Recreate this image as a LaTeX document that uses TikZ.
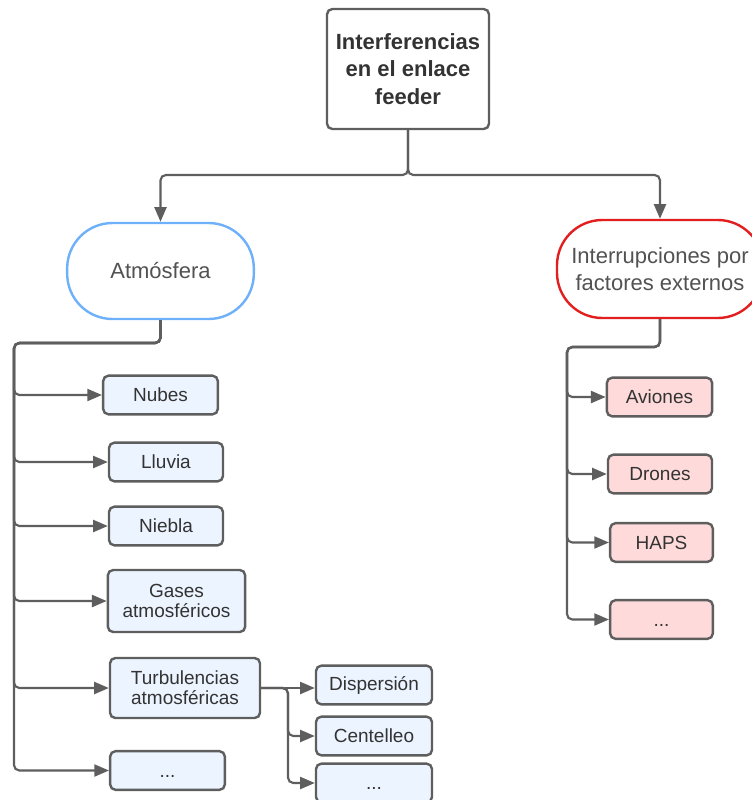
\documentclass[tikz,border=0pt]{standalone}
\usepackage{fontspec}
\setmainfont{Liberation Sans}
\usetikzlibrary{arrows.meta}

\definecolor{lineGray}{RGB}{94,94,94}
\definecolor{txtGray}{RGB}{51,51,51}
\definecolor{atmBlue}{RGB}{110,176,250}
\definecolor{boxBlue}{RGB}{236,244,255}
\definecolor{extRed}{RGB}{226,30,30}
\definecolor{boxRed}{RGB}{255,218,218}

\begin{document}
\begin{tikzpicture}[x=0.75pt,y=0.75pt,yscale=-1,
  conn/.style={draw=lineGray, line width=1.6pt, rounded corners=4pt, -{Triangle[length=11pt,width=9pt]}},
  mainbox/.style={draw=lineGray, line width=1.8pt, rounded corners=4pt, align=center, text=txtGray,
    minimum width=121.5pt, minimum height=90pt, font=\fontsize{16.5}{20.6}\selectfont\bfseries},
  pill/.style={draw, line width=1.8pt, rounded corners=34pt, fill=white, align=center, text=txtGray!85,
    minimum height=72pt, font=\fontsize{16.5}{20}\selectfont},
  leafblue/.style={draw=lineGray, fill=boxBlue, line width=1.8pt, rounded corners=4pt, align=center,
    text=txtGray, minimum height=29pt, font=\fontsize{14.25}{15}\selectfont},
  leafred/.style={leafblue, fill=boxRed}]
\clip (0,0) rectangle (752,800);

% Root
\node[mainbox] (root) at (408,69) {Interferencias\\en el enlace\\feeder};

% Branch nodes
\node[pill, draw=atmBlue, minimum width=140pt] (atm) at (160.5,271) {Atmósfera};
\node[pill, draw=extRed, minimum width=154.5pt, minimum height=73.5pt] (ext) at (660,269) {Interrupciones por\\factores externos};

% Atmosphere leaves
\node[leafblue, minimum width=86pt] (nubes) at (160.5,395) {Nubes};
\node[leafblue, minimum width=85.5pt] (lluvia) at (166,462) {Lluvia};
\node[leafblue, minimum width=85.5pt] (niebla) at (166,526) {Niebla};
\node[leafblue, minimum width=103pt, minimum height=46.5pt] (gases) at (176.5,601) {Gases\\atmosféricos};
\node[leafblue, minimum width=112.5pt, minimum height=45pt] (turb) at (185,688) {Turbulencias\\atmosféricas};
\node[leafblue, minimum width=86pt] (atmdots) at (167.5,770.5) {\vphantom{A}...};

% Turbulence leaves
\node[leafblue, minimum width=87pt] (disp) at (374,685) {Dispersión};
\node[leafblue, minimum width=87pt] (cent) at (374,736) {Centelleo};
\node[leafblue, minimum width=87pt] (turbdots) at (374,783) {\vphantom{A}...};

% External leaves
\node[leafred, minimum width=79pt] (aviones) at (659.5,397) {Aviones};
\node[leafred, minimum width=78pt] (drones) at (660,474) {Drones};
\node[leafred, minimum width=77pt] (haps) at (661.5,542.5) {HAPS};
\node[leafred, minimum width=77pt] (extdots) at (661.5,619.5) {\vphantom{A}...};

% Connectors
\coordinate (rj) at (408,175);
\draw[conn] (root.south) -- (rj) -| (atm.north);
\draw[conn] (root.south) -- (rj) -| (ext.north);

\coordinate (lt) at (14,343);
\foreach \n in {nubes,lluvia,niebla,gases,turb,atmdots}
  \draw[conn] (atm.south) |- (lt) |- (\n.west);

\coordinate (tj) at (288,688);
\draw[conn] (turb.east) -- (disp.west |- turb.east);
\foreach \n in {cent,turbdots}
  \draw[conn] (turb.east) -- (tj) |- (\n.west);

\coordinate (rt) at (567,347);
\foreach \n in {aviones,drones,haps,extdots}
  \draw[conn] (ext.south) |- (rt) |- (\n.west);

\end{tikzpicture}
\end{document}
